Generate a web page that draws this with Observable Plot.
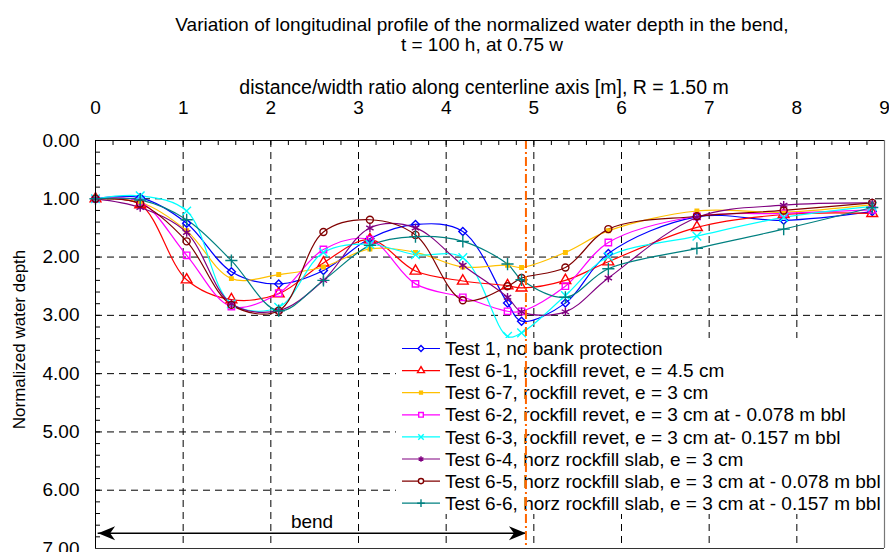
<!DOCTYPE html>
<html><head><meta charset="utf-8">
<script src="https://cdn.jsdelivr.net/npm/d3@7"></script>
<script src="https://cdn.jsdelivr.net/npm/@observablehq/plot@0.6"></script>
<style>
body{margin:0;background:#fff;font-family:"Liberation Sans",Arial,sans-serif;}
#title{position:relative;height:62px;width:889px;overflow:visible;}
#title div{position:absolute;left:0;width:964px;text-align:center;font-size:19px;color:#000;line-height:20px;}
#chart{width:889px;height:490px;}
</style></head><body>
<div id="title"><div id="t1" style="top:15px"></div><div id="t2" style="top:35px"></div></div>
<div id="chart"></div>
<script>
// ---- data ----
const xs = [0, 0.51, 1.04, 1.55, 2.09, 2.60, 3.13, 3.65, 4.19, 4.70, 4.86, 5.36, 5.85, 6.86, 7.85, 8.86];
const test1  = [1.00, 0.98, 1.42, 2.25, 2.46, 2.23, 1.68, 1.44, 1.56, 2.79, 3.10, 2.79, 1.94, 1.31, 1.37, 1.22];
const test61 = [1.00, 1.10, 2.39, 2.73, 2.63, 2.10, 1.70, 2.24, 2.41, 2.49, 2.53, 2.40, 2.08, 1.49, 1.27, 1.25];
const test67 = [1.00, 1.06, 1.55, 2.37, 2.30, 2.17, 1.86, 1.92, 2.17, 2.14, 2.18, 1.92, 1.55, 1.21, 1.23, 1.10];
const test62 = [1.00, 1.05, 1.97, 2.85, 2.62, 1.87, 1.70, 2.46, 2.69, 2.93, 2.93, 2.50, 1.75, 1.30, 1.25, 1.19];
const test63 = [1.00, 0.95, 1.21, 2.80, 2.86, 1.92, 1.78, 1.96, 2.01, 3.36, 3.30, 2.66, 1.99, 1.64, 1.32, 1.13];
const test64 = [1.00, 1.15, 1.58, 2.80, 2.92, 2.40, 1.50, 1.50, 2.14, 2.69, 2.94, 2.94, 2.36, 1.32, 1.11, 1.07];
const test65 = [1.00, 1.08, 1.73, 2.82, 2.92, 1.57, 1.36, 1.62, 2.74, 2.50, 2.36, 2.18, 1.52, 1.30, 1.20, 1.07];
const test66 = [1.00, 1.02, 1.36, 2.06, 2.92, 2.40, 1.80, 1.65, 1.73, 2.12, 2.39, 2.69, 2.20, 1.85, 1.52, 1.15];
const seriesNames = [
  "Test 1, no bank protection",
  "Test 6-1, rockfill revet, e = 4.5 cm",
  "Test 6-7, rockfill revet, e = 3 cm",
  "Test 6-2, rockfill revet, e = 3 cm at - 0.078 m bbl",
  "Test 6-3, rockfill revet, e = 3 cm at- 0.157 m bbl",
  "Test 6-4, horz rockfill slab, e = 3 cm",
  "Test 6-5, horz rockfill slab, e = 3 cm at - 0.078 m bbl",
  "Test 6-6, horz rockfill slab, e = 3 cm at - 0.157 m bbl"
];
const seriesValues = [test1, test61, test67, test62, test63, test64, test65, test66];
const xTicks = [0, 1, 2, 3, 4, 5, 6, 7, 8, 9];
const yTicks = [0, 1, 2, 3, 4, 5, 6, 7];
const titleLines = ["Variation of longitudinal profile of the normalized water depth in the bend,", "t = 100 h, at 0.75 w"];
const xLabel = "distance/width ratio along centerline axis [m], R = 1.50 m";
const yLabel = "Normalized water depth";
const bendLabel = "bend";
const bendStart = 0.03, bendEnd = 4.91, bendY = 6.74;

document.getElementById("t1").textContent = titleLines[0];
document.getElementById("t2").textContent = titleLines[1];

// ---- styles ----
const colors = ["#0000FF", "#FF0000", "#FFC000", "#FF00FF", "#00FFFF", "#800080", "#800000", "#008080"];
const symbols = ["diamond2", "triangle", "square", "square", "times", "asterisk", "circle", "plus"];
const d3Symbols = [d3.symbolDiamond2, d3.symbolTriangle, d3.symbolSquare, d3.symbolSquare, d3.symbolTimes, d3.symbolAsterisk, d3.symbolCircle, d3.symbolPlus];
const radii = [3.6, 4, 2, 3.6, 4, 4, 3.5, 4];
const filled = [false, false, true, false, false, false, false, false];

const rows = [];
seriesNames.forEach((name, i) => seriesValues[i].forEach((v, j) => rows.push({series: name, i, x: xs[j], y: v})));

const W = 889, H = 490, mt = 78, mb = 4, ml = 95, mr = 5;
const plotW = W - ml - mr, plotH = H - mt - mb;
const minorX = d3.range(0, 9.001, 0.2).map(v => +v.toFixed(1));
const minorY = d3.range(0, 7.001, 0.2).map(v => +v.toFixed(1));
const gridX = xTicks.filter(v => v > 0 && v < 9);
const gridY = yTicks.filter(v => v > 0 && v < 7);

const arrowRight = {draw(ctx) { ctx.moveTo(0, 0); ctx.lineTo(-17, -7); ctx.lineTo(-12, 0); ctx.lineTo(-17, 7); ctx.closePath(); }};
const arrowLeft = {draw(ctx) { ctx.moveTo(0, 0); ctx.lineTo(17, -7); ctx.lineTo(12, 0); ctx.lineTo(17, 7); ctx.closePath(); }};

function legendMark() {
  const g = d3.create("svg:g");
  const lx = 396, ly = 276;
  g.append("rect").attr("x", lx).attr("y", ly).attr("width", 488).attr("height", 176).attr("fill", "white");
  seriesNames.forEach((n, i) => {
    const cy = ly + 10.5 + i * 22.1;
    g.append("line").attr("x1", lx + 6).attr("x2", lx + 44).attr("y1", cy).attr("y2", cy).attr("stroke", colors[i]).attr("stroke-width", 1.2);
    const r = filled[i] ? 1.6 : 2.6;
    g.append("path").attr("transform", `translate(${lx + 25},${cy})`)
      .attr("d", d3.symbol(d3Symbols[i], r * r * Math.PI)())
      .attr("fill", filled[i] ? colors[i] : "white").attr("stroke", colors[i]).attr("stroke-width", 1.4);
    g.append("text").attr("x", lx + 49).attr("y", cy).attr("dy", "0.35em").attr("font-size", 19)
      .attr("text-anchor", "start").attr("fill", "#000").text(n);
  });
  return g.node();
}

const marks = [
  Plot.ruleY(gridY, {y: d => d, stroke: "#000", strokeDasharray: "7,5", strokeWidth: 1}),
  Plot.ruleX(gridX, {x: d => d, stroke: "#000", strokeDasharray: "7,5", strokeWidth: 1}),
  Plot.tickX(minorX, {x: d => d, insetBottom: plotH - 5, stroke: "#000"}),
  Plot.tickY(minorY, {y: d => d, insetRight: plotW - 5, stroke: "#000"}),
  Plot.axisX({anchor: "top", ticks: xTicks, tickSize: 0, tickPadding: 27, label: null, fontSize: 19, tickFormat: d => String(d)}),
  Plot.axisY({anchor: "left", ticks: yTicks, tickSize: 0, tickPadding: 16, label: null, fontSize: 19, tickFormat: d => d.toFixed(2)}),
  Plot.text([xLabel], {frameAnchor: "top", lineAnchor: "middle", text: d => d, dy: -53, dx: -6, fontSize: 19.5}),
  Plot.text([yLabel], {frameAnchor: "left", textAnchor: "middle", lineAnchor: "middle", text: d => d, rotate: -90, dx: -76, dy: -5, fontSize: 17})
];
seriesNames.forEach((name, i) => {
  const data = rows.filter(r => r.i === i);
  marks.push(Plot.line(data, {x: "x", y: "y", stroke: colors[i], strokeWidth: 1.2, curve: "catmull-rom"}));
});
seriesNames.forEach((name, i) => {
  const data = rows.filter(r => r.i === i);
  marks.push(Plot.dot(data, {x: "x", y: "y", symbol: symbols[i], r: radii[i], stroke: colors[i], strokeWidth: 1.4, fill: filled[i] ? colors[i] : "none"}));
});
marks.push(legendMark);
marks.push(Plot.ruleY([bendY], {y: d => d, x1: bendStart, x2: bendEnd, stroke: "#000", strokeWidth: 1.5}));
marks.push(Plot.dot([bendEnd], {x: d => d, y: bendY, symbol: arrowRight, fill: "#000", stroke: "none"}));
marks.push(Plot.dot([bendStart], {x: d => d, y: bendY, symbol: arrowLeft, fill: "#000", stroke: "none"}));
marks.push(Plot.text([bendLabel], {x: (bendStart + bendEnd) / 2, y: bendY, text: d => d, dy: -11, fontSize: 19}));
marks.push(Plot.ruleX([bendEnd], {x: d => d, stroke: "#FF6600", strokeWidth: 2, strokeDasharray: "9,3,2,3"}));
marks.push(Plot.ruleX([0], {x: d => d, stroke: "#000"}));
marks.push(Plot.ruleY([0], {y: d => d, stroke: "#000"}));
marks.push(Plot.ruleX([9], {x: d => d, stroke: "#777", strokeWidth: 1.2}));
marks.push(Plot.ruleY([7], {y: d => d, stroke: "#333"}));

const chart = Plot.plot({
  width: W, height: H, marginTop: mt, marginBottom: mb, marginLeft: ml, marginRight: mr,
  x: {domain: [0, 9], axis: null},
  y: {domain: [0, 7], reverse: true, axis: null},
  style: {fontFamily: "'Liberation Sans', Arial, sans-serif", fontSize: "19px", color: "#000", background: "white", overflow: "visible"},
  marks
});
document.getElementById("chart").appendChild(chart);
</script>
</body></html>
